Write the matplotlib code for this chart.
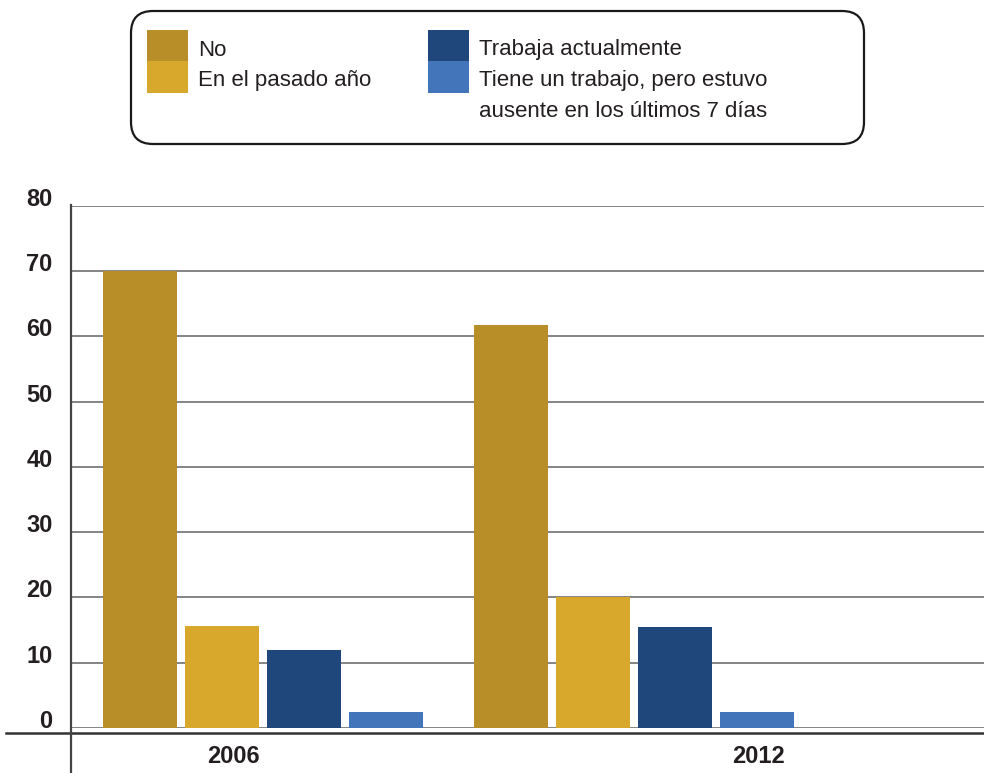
import matplotlib
matplotlib.use("Agg")
import matplotlib.pyplot as plt
from matplotlib.patches import FancyBboxPatch, Rectangle
from matplotlib.lines import Line2D
from matplotlib.transforms import Affine2D, ScaledTranslation

# survey data (%)
years = ["2006", "2012"]
series_names = ["No", "En el pasado año", "Trabaja actualmente",
                "Tiene un trabajo, pero estuvo\nausente en los últimos 7 días"]
no_vals = [70.0, 61.8]
past_year_vals = [15.6, 20.0]
working_vals = [12.0, 15.4]
absent_vals = [2.5, 2.5]
yticks = [0, 10, 20, 30, 40, 50, 60, 70, 80]

colors = ["#B88E29", "#D8A82D", "#1F477B", "#4275BA"]
txt = "#231F20"

plt.rcParams['font.family'] = ['Liberation Sans', 'DejaVu Sans']

W, H = 984, 773
fig = plt.figure(figsize=(W / 100, H / 100), dpi=100)
# pixel coords measured from the top-left corner
px = Affine2D().scale(1, -1).translate(0, H)

left, right, top, bottom = 70.5, 984, 205.7, 728
ax = fig.add_axes([left / W, 1 - bottom / H, (right - left) / W, (bottom - top) / H])

unit = 371.0           # pixels between the two year groups
step = 82 / unit
width = 74 / unit
all_series = [no_vals, past_year_vals, working_vals, absent_vals]
for i, vals in enumerate(all_series):
    xs = [g + (i - 1.5) * step for g in range(len(years))]
    ax.bar(xs, vals, width=width, color=colors[i], zorder=3)

ax.set_xlim((left - 262.5) / unit, (right - 262.5) / unit)
ax.set_ylim(0, 80)
for s in ax.spines.values():
    s.set_visible(False)

ax.set_yticks(yticks)
ax.set_yticklabels([str(v) for v in yticks], fontsize=17, fontweight='bold', color=txt)
ax.yaxis.grid(True, color='#707070', linewidth=1.2, zorder=0)
ax.set_axisbelow(True)
ax.tick_params(axis='y', length=0, pad=13)
lift = ScaledTranslation(0, 0.09, fig.dpi_scale_trans)
for t in ax.yaxis.get_major_ticks():
    t.label1.set_transform(t.label1.get_transform() + lift)

ax.set_xticks([-0.078, 1.338])
ax.set_xticklabels(years, fontsize=17, fontweight='bold', color=txt)
ax.tick_params(axis='x', length=0, pad=12)

# axis lines running past the plot area
fig.add_artist(Line2D([6, 984], [732.5, 732.5], transform=px, color='#333333', lw=1.8))
fig.add_artist(Line2D([70.5, 70.5], [205, 773], transform=px, color='#444444', lw=1.6))

# legend box
fig.add_artist(FancyBboxPatch((131, 11), 733, 133, boxstyle="round,pad=0,rounding_size=22",
                              transform=px, fill=False, ec='#1a1a1a', lw=1.6))
patch_x = [147, 147, 428, 428]
patch_y = [29.5, 61, 29.5, 61]
text_y = [55.5, 86, 55.5, 86]
line_gap = 31
for i in range(4):
    fig.add_artist(Rectangle((patch_x[i], patch_y[i]), 41, 32, transform=px,
                             color=colors[i], lw=0))
    for k, line in enumerate(series_names[i].split("\n")):
        fig.text(patch_x[i] + 51, text_y[i] + k * line_gap, line, transform=px,
                 fontsize=16, color=txt, va='baseline', ha='left')

fig.savefig("out.png", dpi=100)
